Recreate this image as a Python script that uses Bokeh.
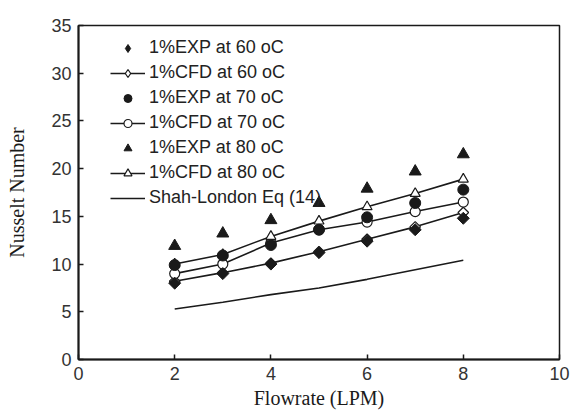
from math import pi, nan
from bokeh.plotting import figure
from bokeh.models import Legend, LegendItem, FixedTicker, Range1d
from bokeh.embed import file_html
from bokeh.resources import INLINE

# Flowrate (LPM)
flowrate = [2, 3, 4, 5, 6, 7, 8]

# Nusselt number, 1% concentration
exp_60 = [8.0, 9.0, 10.0, 11.2, 12.4, 13.6, 14.8]
cfd_60 = [8.2, 9.1, 10.1, 11.3, 12.6, 13.9, 15.4]
exp_70 = [9.9, 10.9, 12.0, 13.6, 14.9, 16.4, 17.8]
cfd_70 = [9.0, 10.0, 12.2, 13.6, 14.4, 15.5, 16.5]
exp_80 = [11.9, 13.2, 14.6, 16.4, 17.9, 19.7, 21.5]
cfd_80 = [10.0, 11.0, 12.9, 14.5, 16.0, 17.4, 18.9]
shah_london = [5.3, 6.0, 6.8, 7.5, 8.4, 9.4, 10.4]

x_ticks = [0, 2, 4, 6, 8, 10]
y_ticks = [0, 5, 10, 15, 20, 25, 30, 35]

SANS = "Liberation Sans"
SERIF = "Liberation Serif"
INK = "#1a1a1a"

p = figure(width=571, height=411, output_backend="svg", toolbar_location=None,
           x_range=Range1d(0, 10), y_range=Range1d(0, 35),
           min_border_left=78, min_border_right=12,
           min_border_top=25, min_border_bottom=51)

p.xgrid.visible = False
p.ygrid.visible = False
p.outline_line_color = INK
p.outline_line_width = 1.5

for ax, ticks in ((p.xaxis, x_ticks), (p.yaxis, y_ticks)):
    ax.ticker = FixedTicker(ticks=ticks)
    ax.minor_tick_line_color = None
    ax.major_tick_in = 5
    ax.major_tick_out = 0
    ax.major_tick_line_color = INK
    ax.major_tick_line_width = 1.5
    ax.axis_line_color = INK
    ax.axis_line_width = 2
    ax.major_label_text_font = SANS
    ax.major_label_text_font_size = "18px"
    ax.major_label_text_color = "#333333"
    ax.axis_label_text_font = SERIF
    ax.axis_label_text_font_size = "20px"
    ax.axis_label_text_font_style = "normal"
    ax.axis_label_text_color = INK

p.xaxis.axis_label = "Flowrate (LPM)"
p.yaxis.axis_label = "Nusselt Number"
p.xaxis.major_label_standoff = 7
p.yaxis.major_label_standoff = 7
p.xaxis.axis_label_standoff = 4
p.yaxis.axis_label_standoff = 20

# Shah-London correlation
shah = p.line(flowrate, shah_london, line_color=INK, line_width=1.6)

# Diamonds are drawn as squares turned by 45 degrees
TILT = pi / 4

# CFD results: lines with open markers
l60 = p.line(flowrate, cfd_60, line_color=INK, line_width=1.6)
m60 = p.scatter(flowrate, cfd_60, marker="square", angle=TILT, size=7.5, fill_color="white",
                line_color=INK, line_width=1.2)
l70 = p.line(flowrate, cfd_70, line_color=INK, line_width=1.6)
m70 = p.scatter(flowrate, cfd_70, marker="circle", size=10, fill_color="white",
                line_color=INK, line_width=1.2)
l80 = p.line(flowrate, cfd_80, line_color=INK, line_width=1.6)
m80 = p.scatter(flowrate, cfd_80, marker="triangle", size=10, fill_color="white",
                line_color=INK, line_width=1.2)

# Experimental results: filled markers
e60 = p.scatter(flowrate, exp_60, marker="square", angle=TILT, size=8.5, fill_color=INK, line_color=INK)
e70 = p.scatter(flowrate, exp_70, marker="circle", size=11, fill_color=INK, line_color=INK)
e80 = p.scatter(flowrate, exp_80, marker="triangle", size=12, fill_color=INK, line_color=INK)

# Legend swatches for the diamond series (legend glyphs ignore marker angle);
# a single NaN point keeps them out of the plot area
k60_exp = p.scatter(x=[nan], y=[nan], marker="diamond", size=14, fill_color=INK, line_color=INK)
k60_cfd = p.scatter(x=[nan], y=[nan], marker="diamond", size=11, fill_color="white",
                    line_color=INK, line_width=1.2)

legend = Legend(items=[
    LegendItem(label="1%EXP at 60 oC", renderers=[k60_exp]),
    LegendItem(label="1%CFD at 60 oC", renderers=[l60, k60_cfd]),
    LegendItem(label="1%EXP at 70 oC", renderers=[e70]),
    LegendItem(label="1%CFD at 70 oC", renderers=[l70, m70]),
    LegendItem(label="1%EXP at 80 oC", renderers=[e80]),
    LegendItem(label="1%CFD at 80 oC", renderers=[l80, m80]),
    LegendItem(label="Shah-London Eq (14)", renderers=[shah]),
], location=(32, 151))
legend.background_fill_alpha = 0
legend.border_line_color = None
legend.padding = 0
legend.margin = 0
legend.spacing = 4
legend.glyph_width = 35
legend.glyph_height = 20
legend.label_height = 20
legend.label_standoff = 4
legend.label_text_font = SANS
legend.label_text_font_size = "18px"
legend.label_text_color = "#222222"
p.add_layout(legend, "center")

open("out.html", "w").write(file_html(p, INLINE))
